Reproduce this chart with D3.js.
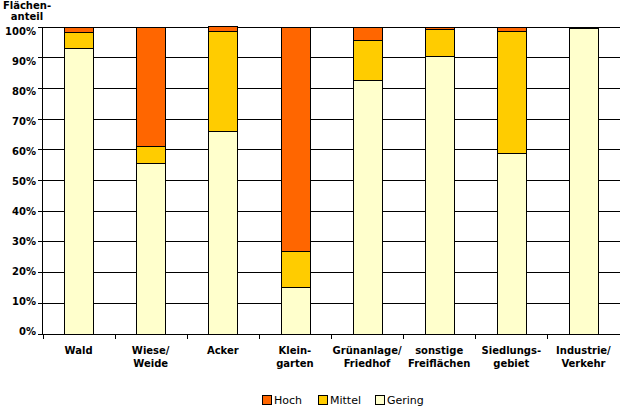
<!DOCTYPE html>
<meta charset="utf-8">
<style>
body { margin: 0; background: white; }
.canvas { display: block; }
.canvas text { font-family: "DejaVu Sans", Verdana, sans-serif; fill: black; }
.grid line { stroke: black; stroke-width: 1; shape-rendering: crispEdges; }
.bars rect { stroke: black; stroke-width: 1; shape-rendering: crispEdges; }
.ylab text { font-size: 10px; font-weight: bold; text-anchor: end; }
.xlab text { font-size: 10px; font-weight: bold; text-anchor: middle; }
.title { font-size: 10px; font-weight: bold; text-anchor: middle; }
.legend rect { stroke: black; stroke-width: 1; shape-rendering: crispEdges; }
.legend text { font-size: 11px; }
</style>
<svg class="canvas"></svg>
<script src="https://cdn.jsdelivr.net/npm/d3@7"></script>
<script>

var categories = ["Wald", "Wiese/\nWeide", "Acker", "Klein-\ngarten", "Grünanlage/\nFriedhof",
	"sonstige\nFreiflächen", "Siedlungs-\ngebiet", "Industrie/\nVerkehr"];
var gering = [93.1, 55.6, 65.9, 15.0, 82.7, 90.3, 58.9, 99.5];
var mittel = [5.2, 5.5, 32.7, 12.0, 13.0, 8.9, 39.5, 0.4];
var hoch = [1.7, 38.9, 1.4, 73.0, 4.3, 0.8, 1.6, 0.1];
var yTicks = [0, 10, 20, 30, 40, 50, 60, 70, 80, 90, 100];
var legendKeys = ["Hoch", "Mittel", "Gering"];

var COLORS = { Gering: "#FFFFCC", Mittel: "#FFCC00", Hoch: "#FF6600" };

var width = 620,
	height = 412;

var canvas = d3.select(".canvas")
	.attr("width", width)
	.attr("height", height);

var rows = categories.map(function(c, i) {
	return { cat: c, Gering: gering[i], Mittel: mittel[i], Hoch: hoch[i] };
});

var x = d3.scaleBand().domain(categories).range([42.5, 619.5]).paddingInner(0.6).paddingOuter(0.3);
var y = d3.scaleLinear().domain([0, 100]).range([333.5, 26.5]);
// labels sit a bit off the lines in the original
var yLab = d3.scaleLinear().domain([0, 100]).range([331, 31]);

// gridlines + left ticks
var grid = canvas.append("g").attr("class", "grid");
grid.selectAll("line.h").data(yTicks)
	.enter().append("line")
	.attr("x1", 38).attr("x2", 619.5)
	.attr("y1", function(d) { return Math.round(y(d)) + 0.5; })
	.attr("y2", function(d) { return Math.round(y(d)) + 0.5; });

grid.append("line")
	.attr("x1", 42.5).attr("x2", 42.5)
	.attr("y1", y(100)).attr("y2", y(0));

// category ticks at band borders
var borders = d3.range(categories.length + 1).map(function(i) {
	return 42.5 + i * x.step();
});
grid.selectAll("line.v").data(borders)
	.enter().append("line")
	.attr("x1", function(d) { return Math.round(d) + 0.5; })
	.attr("x2", function(d) { return Math.round(d) + 0.5; })
	.attr("y1", y(0)).attr("y2", y(0) + 5);

var stack = d3.stack().keys(["Gering", "Mittel", "Hoch"])(rows);

var bars = canvas.append("g").attr("class", "bars");
bars.selectAll("g").data(stack)
	.enter().append("g")
	.attr("fill", function(d) { return COLORS[d.key]; })
	.selectAll("rect").data(function(d) { return d; })
	.enter().append("rect")
	.attr("x", function(d) { return Math.round(x(d.data.cat)) + 0.5; })
	.attr("width", Math.round(x.bandwidth()))
	.attr("y", function(d) { return Math.round(y(d[1])) + 0.5; })
	.attr("height", function(d) { return Math.max(0, Math.round(y(d[0])) - Math.round(y(d[1]))); });

// y labels
canvas.append("g").attr("class", "ylab")
	.selectAll("text").data(yTicks)
	.enter().append("text")
	.attr("x", 36)
	.attr("y", function(d) { return yLab(d); })
	.attr("dy", ".35em")
	.text(function(d) { return d + "%"; });

// x labels
var xl = canvas.append("g").attr("class", "xlab")
	.selectAll("text").data(categories)
	.enter().append("text")
	.attr("x", function(d) { return x(d) + x.bandwidth() / 2; })
	.attr("y", 354);
xl.selectAll("tspan").data(function(d) { return d.split("\n"); })
	.enter().append("tspan")
	.attr("x", function() { return this.parentNode.getAttribute("x"); })
	.attr("dy", function(d, i) { return i == 0 ? 0 : 13; })
	.text(function(d) { return d; });

// axis title
canvas.append("text").attr("class", "title").attr("x", 27).attr("y", 9).text("Flächen-");
canvas.append("text").attr("class", "title").attr("x", 27).attr("y", 20).text("anteil");

// legend
var legX = [262, 318, 375];
var leg = canvas.selectAll("g.legend").data(legendKeys)
	.enter().append("g")
	.attr("class", "legend")
	.attr("transform", function(d, i) { return "translate(" + legX[i] + ",395)"; });
leg.append("rect")
	.attr("x", 0.5).attr("y", 0.5)
	.attr("width", 9).attr("height", 9)
	.attr("fill", function(d) { return COLORS[d]; });
leg.append("text")
	.attr("x", 12).attr("y", 5).attr("dy", ".35em")
	.text(function(d) { return d; });

</script>
